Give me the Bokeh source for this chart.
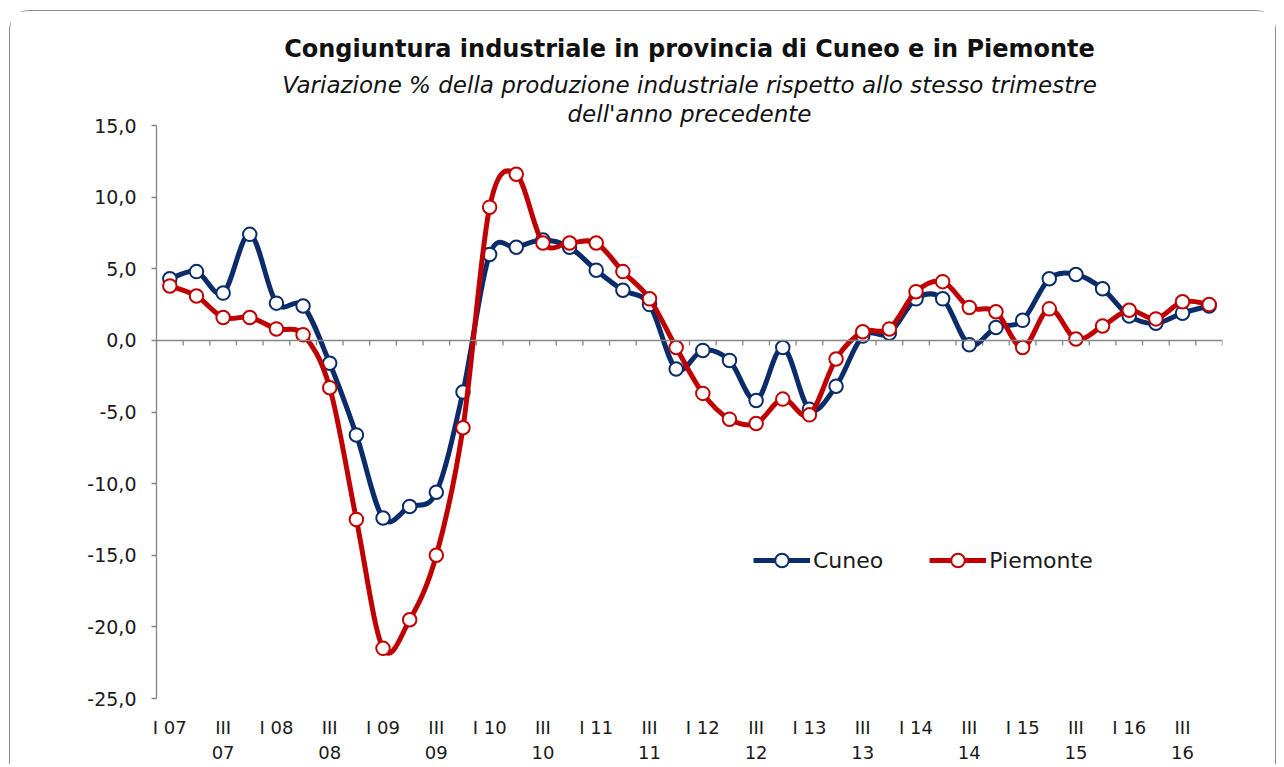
import numpy as np
from bokeh.plotting import figure
from bokeh.models import (Range1d, LinearAxis, FixedTicker, Span, Title, Legend,
                          LegendItem, ColumnDataSource)
from bokeh.embed import file_html
from bokeh.resources import INLINE

# ---------------- data ----------------
years = ["07", "08", "09", "10", "11", "12", "13", "14", "15", "16"]
quarter_names = ["I", "II", "III", "IV"]
quarters = [f"{q} {y}" for y in years for q in quarter_names]

cuneo = [4.3, 4.8, 3.3, 7.4, 2.6, 2.4, -1.6, -6.6, -12.4, -11.6,
         -10.6, -3.6, 6.0, 6.5, 7.0, 6.5, 4.9, 3.5, 2.5, -2.0,
         -0.7, -1.4, -4.2, -0.5, -4.8, -3.2, 0.3, 0.5, 2.9, 2.9,
         -0.3, 0.9, 1.4, 4.3, 4.6, 3.6, 1.7, 1.2, 1.9, 2.4]
piemonte = [3.8, 3.1, 1.6, 1.6, 0.8, 0.4, -3.3, -12.5, -21.5, -19.5,
            -15.0, -6.1, 9.3, 11.6, 6.8, 6.8, 6.8, 4.8, 2.9, -0.5,
            -3.7, -5.5, -5.8, -4.1, -5.2, -1.3, 0.6, 0.8, 3.4, 4.1,
            2.3, 2.0, -0.5, 2.2, 0.1, 1.0, 2.1, 1.5, 2.7, 2.5]

y_ticks = [-25, -20, -15, -10, -5, 0, 5, 10, 15]

title = "Congiuntura industriale in provincia di Cuneo e in Piemonte"
subtitle1 = "Variazione % della produzione industriale rispetto allo stesso trimestre"
subtitle2 = "dell'anno precedente"

C_CUNEO = "#0A2C6A"
C_PIEM = "#C00000"
GRAY = "#868686"
FONT = "DejaVu Sans"
TXT = "#1a1a1a"

x = np.arange(len(quarters))

p = figure(width=1267, height=754,
           x_range=Range1d(-0.5, len(quarters) - 0.5), y_range=Range1d(-25, 15),
           output_backend="svg", toolbar_location=None,
           x_axis_type=None, y_axis_type=None,
           min_border_left=146, min_border_right=55,
           min_border_top=114, min_border_bottom=66,
           background_fill_color="white", border_fill_color="white")
p.outline_line_color = None
p.grid.visible = False
p.styles = {"margin-left": "9px", "margin-top": "10px",
            "border": "1.5px solid #8c8c8c", "border-bottom": "none",
            "border-radius": "20px 20px 0 0"}

# titles (added closest-to-plot first)
p.add_layout(Title(text=subtitle2, align="center", text_font=FONT, text_font_size="23px",
                   text_font_style="italic", text_color="#111111", standoff=-3), "above")
p.add_layout(Title(text=subtitle1, align="center", text_font=FONT, text_font_size="23px",
                   text_font_style="italic", text_color="#111111", standoff=5), "above")
p.add_layout(Title(text=title, align="center", text_font=FONT, text_font_size="24px",
                   text_font_style="bold", text_color="#111111", standoff=9), "above")

# y axis
yax = LinearAxis(ticker=FixedTicker(ticks=y_ticks),
                 major_label_overrides={t: f"{t:.1f}".replace(".", ",") for t in y_ticks})
yax.axis_line_color = GRAY
yax.axis_line_width = 1.3
yax.major_tick_line_color = GRAY
yax.major_tick_line_width = 1.3
yax.major_tick_out = 5
yax.major_tick_in = 0
yax.minor_tick_line_color = None
yax.major_label_standoff = 15
yax.major_label_text_font = FONT
yax.major_label_text_font_size = "19px"
yax.major_label_text_color = TXT
p.add_layout(yax, "left")

# x axis labels (every other quarter)
xlabels = {}
for i in range(0, len(quarters), 2):
    q, yy = quarters[i].split()
    xlabels[int(i)] = f"{q} {yy}" if q == "I" else f"{q}\n{yy}"
xax = LinearAxis(ticker=FixedTicker(ticks=list(range(0, len(quarters), 2))),
                 major_label_overrides=xlabels)
xax.axis_line_color = None
xax.major_tick_line_color = None
xax.major_tick_out = 0
xax.major_tick_in = 0
xax.minor_tick_line_color = None
xax.major_label_standoff = 18
xax.major_label_text_font = FONT
xax.major_label_text_font_size = "18px"
xax.major_label_text_color = TXT
xax.major_label_text_line_height = 1.2
p.add_layout(xax, "below")

# zero line with category-boundary ticks
p.add_layout(Span(location=0, dimension="width", line_color=GRAY, line_width=1.5))
bounds = np.arange(len(quarters) + 1) - 0.5
p.segment(x0=bounds, y0=np.zeros_like(bounds), x1=bounds, y1=np.full_like(bounds, -0.36),
          line_color=GRAY, line_width=1.3)


def smooth(xs, ys):
    xs = np.asarray(xs, float)
    ys = np.asarray(ys, float)
    n = len(xs)
    xp = np.concatenate([[xs[0]], xs, [xs[-1]]])
    yp = np.concatenate([[ys[0]], ys, [ys[-1]]])
    i = np.arange(n - 1) + 1
    return dict(x0=xp[i], y0=yp[i], x1=xp[i + 1], y1=yp[i + 1],
                cx0=xp[i] + (xp[i + 1] - xp[i - 1]) / 6,
                cy0=yp[i] + (yp[i + 1] - yp[i - 1]) / 6,
                cx1=xp[i + 1] - (xp[i + 2] - xp[i]) / 6,
                cy1=yp[i + 1] - (yp[i + 2] - yp[i]) / 6)


items = []
for name, vals, col in [("Cuneo", cuneo, C_CUNEO), ("Piemonte", piemonte, C_PIEM)]:
    src = ColumnDataSource(smooth(x, vals))
    p.bezier(x0="x0", y0="y0", x1="x1", y1="y1", cx0="cx0", cy0="cy0",
             cx1="cx1", cy1="cy1", source=src, line_color=col, line_width=5,
             line_cap="round")
    leg_line = p.line(x, vals, line_color=col, line_width=5, visible=False)
    sc = p.scatter(x, vals, size=13.5, fill_color="white", line_color=col, line_width=2)
    items.append(LegendItem(label=name, renderers=[leg_line, sc]))

legend = Legend(items=items, orientation="horizontal", location=(597, 121),
                glyph_width=57, glyph_height=34, label_standoff=3, spacing=46,
                border_line_color=None, background_fill_alpha=0, padding=0, margin=0,
                label_text_font=FONT, label_text_font_size="22px",
                label_text_color=TXT)
p.add_layout(legend)

open("out.html", "w").write(file_html(p, INLINE))
